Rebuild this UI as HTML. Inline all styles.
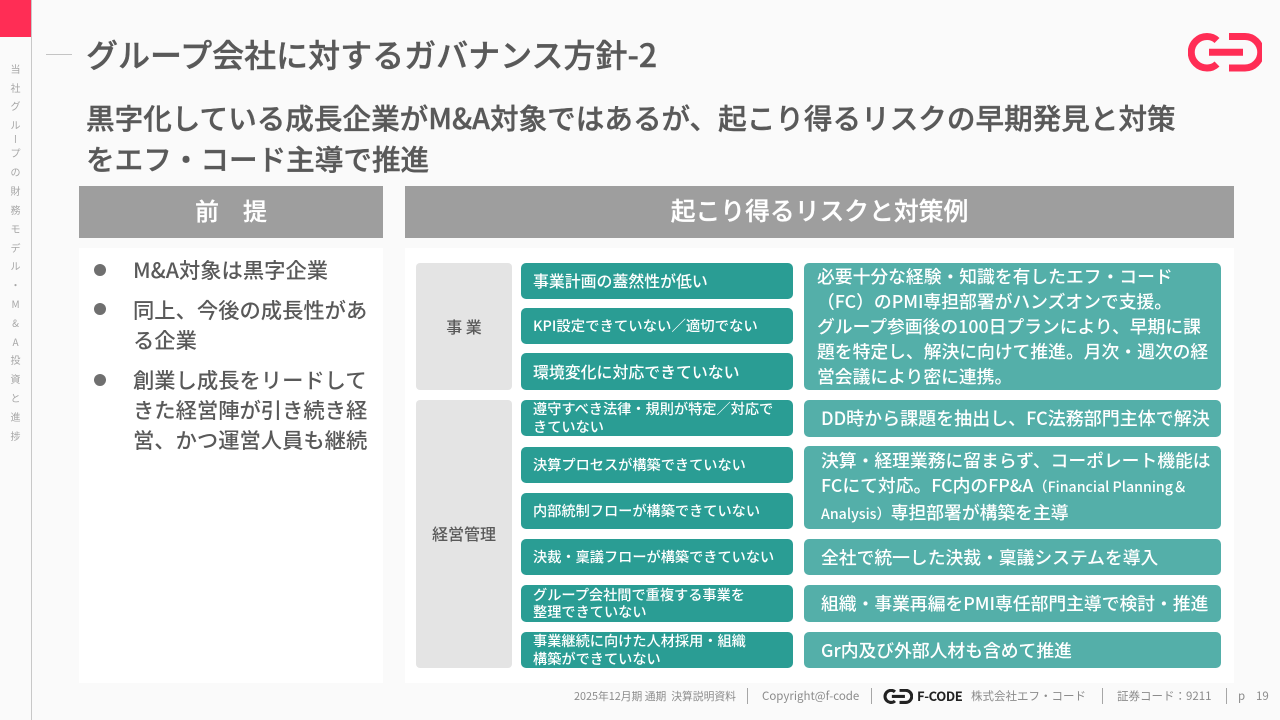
<!DOCTYPE html>
<html lang="ja"><head><meta charset="utf-8"><style>
html,body{margin:0;padding:0}
body{width:1280px;height:720px;position:relative;overflow:hidden;background:#fafafa;font-family:"Liberation Sans","Noto Sans CJK JP",sans-serif;color:#595959}
div{position:absolute;box-sizing:border-box}
.t{white-space:nowrap;line-height:1;font-family:"Noto Sans CJK JP",sans-serif;-webkit-text-stroke:.4px #595959}
.a,.b{border-radius:5px;color:#fff;white-space:nowrap;font-weight:500}
.a{left:521px;width:272px;background:#2a9d94;font-size:14.2px;line-height:17.5px;padding:1px 0 0 12px;display:flex;align-items:center;font-family:"Noto Sans CJK JP",sans-serif}
.b{left:804px;width:417px;background:#54afa9;font-size:17.8px;line-height:25px;padding-left:17px;display:flex;align-items:center;font-family:"Noto Sans CJK JP",sans-serif}
.b span.w{display:block}
.g{left:416px;width:96px;background:#e4e4e4;border-radius:4px;display:flex;align-items:center;justify-content:center;font-size:16px;font-weight:500;color:#595959;padding-bottom:2px;font-family:"Noto Sans CJK JP",sans-serif}
.dot{left:94px;width:12px;height:12px;border-radius:50%;background:#6f6f6f}
.li{left:133px;font-size:21.3px;font-weight:500;line-height:30px;white-space:nowrap;font-family:"Noto Sans CJK JP",sans-serif;color:#595959}
.s{left:0;width:31px;text-align:center;font-size:10px;line-height:1;color:#a6a6a6;font-family:"Noto Sans CJK JP",sans-serif}
.f{top:690px;font-size:11.5px;line-height:13px;color:#8c8c8c;white-space:nowrap;font-family:"Noto Sans CJK JP",sans-serif}
.v{top:688px;width:1px;height:16px;background:#a6a6a6}
.h{top:186px;height:52px;background:#9e9e9e;color:#fff;font-weight:500;line-height:48px;text-align:center;font-family:"Noto Sans CJK JP",sans-serif;-webkit-text-stroke:.3px #fff}
</style></head><body>
<div style="left:0;top:0;width:31px;height:37px;background:#ff2d55"></div>
<div style="left:31px;top:0;width:1px;height:720px;background:#c8c8c8"></div>
<div class="s" style="top:64px">当</div><div class="s" style="top:83px">社</div><div class="s" style="top:101px">グ</div><div class="s" style="top:120px">ル</div><div class="s" style="top:134px;writing-mode:vertical-rl;left:10px;width:10px;height:10px">ー</div><div class="s" style="top:148px">プ</div><div class="s" style="top:167px">の</div><div class="s" style="top:186px">財</div><div class="s" style="top:205px">務</div><div class="s" style="top:224px">モ</div><div class="s" style="top:243px">デ</div><div class="s" style="top:261px">ル</div><div class="s" style="top:280px">・</div><div class="s" style="top:299px">M</div><div class="s" style="top:318px">&amp;</div><div class="s" style="top:337px">A</div><div class="s" style="top:355px">投</div><div class="s" style="top:374px">資</div><div class="s" style="top:393px">と</div><div class="s" style="top:412px">進</div><div class="s" style="top:431px">捗</div>

<div style="left:46px;top:54px;width:26px;height:1px;background:#c4c4c4"></div>
<div class="t" style="left:86px;top:37px;font-size:32px;font-weight:500;line-height:34px">グループ会社に対するガバナンス方針-2</div>
<svg style="position:absolute;left:1188px;top:33px" width="74" height="39" viewBox="0 0 74 39"><g fill="none" stroke="#ff2d55" stroke-width="7"><path d="M29 7.500C26 4.500 23 3.500 19 3.500A15.500 15.500 0 0 0 19 35C23 35 26 34 29 31"/><path d="M41 3.500H57A15.700 15.700 0 0 1 57 35H41"/><path d="M21 19.300H55"/></g></svg>
<div class="t" style="left:86px;top:100px;font-size:28.6px;font-weight:500;line-height:36px">黒字化している成長企業がM&amp;A対象ではあるが、起こり得るリスクの早期発見と対策</div>
<div class="t" style="left:86px;top:141px;font-size:28.6px;font-weight:500;line-height:36px">をエフ・コード主導で推進</div>

<div class="h" style="left:79px;width:304px;font-size:24px">前　提</div>
<div class="h" style="left:405px;width:829px;font-size:24.8px">起こり得るリスクと対策例</div>
<div style="left:79px;top:248px;width:304px;height:435px;background:#fff"></div>
<div style="left:405px;top:248px;width:829px;height:435px;background:#fff"></div>

<div class="dot" style="top:264px"></div><div class="dot" style="top:303px"></div><div class="dot" style="top:374px"></div>
<div class="li" style="top:255px">M&amp;A対象は黒字企業</div>
<div class="li" style="top:295px">同上、今後の成長性があ<br>る企業</div>
<div class="li" style="top:365px">創業し成長をリードして<br>きた経営陣が引き続き経<br>営、かつ運営人員も継続</div>

<div class="g" style="top:263px;height:127px">事 業</div>
<div class="g" style="top:400px;height:268px">経営管理</div>

<div class="a" style="top:263px;height:36px;font-size:15.9px;padding-top:0">事業計画の蓋然性が低い</div>
<div class="a" style="top:308px;height:36px;font-size:14.4px;padding-top:0">KPI設定できていない／適切でない</div>
<div class="a" style="top:353px;height:37px;font-size:15.9px;padding-top:0">環境変化に対応できていない</div>
<div class="a" style="top:400px;height:36px">遵守すべき法律・規則が特定／対応で<br>きていない</div>
<div class="a" style="top:447px;height:36px">決算プロセスが構築できていない</div>
<div class="a" style="top:493px;height:36px">内部統制フローが構築できていない</div>
<div class="a" style="top:539px;height:36px">決裁・稟議フローが構築できていない</div>
<div class="a" style="top:585px;height:37px">グループ会社間で重複する事業を<br>整理できていない</div>
<div class="a" style="top:632px;height:36px">事業継続に向けた人材採用・組織<br>構築ができていない</div>

<div class="b" style="top:263px;height:127px;padding-left:13px">必要十分な経験・知識を有したエフ・コード<br>（FC）のPMI専担部署がハンズオンで支援。<br>グループ参画後の100日プランにより、早期に課<br>題を特定し、解決に向けて推進。月次・週次の経<br>営会議により密に連携。</div>
<div class="b" style="top:400px;height:37px;font-size:18px">DD時から課題を抽出し、FC法務部門主体で解決</div>
<div class="b" style="top:446px;height:83px"><span class="w">決算・経理業務に留まらず、コーポレート機能は<br>FCにて対応。FC内のFP&amp;A<span style="font-size:14.2px">（Financial Planning＆</span><br><span style="font-size:14.2px">Analysis）</span>専担部署が構築を主導</span></div>
<div class="b" style="top:539px;height:36px">全社で統一した決裁・稟議システムを導入</div>
<div class="b" style="top:585px;height:37px">組織・事業再編をPMI専任部門主導で検討・推進</div>
<div class="b" style="top:632px;height:36px">Gr内及び外部人材も含めて推進</div>

<div class="f" style="left:574px;font-size:10.8px">2025年12月期 通期&nbsp; 決算説明資料</div>
<div class="v" style="left:747px"></div>
<div class="f" style="left:762px">Copyright@f-code</div>
<div class="v" style="left:871px"></div>
<svg style="position:absolute;left:883px;top:689px" width="30" height="15" viewBox="0 0 74 39"><g fill="none" stroke="#222" stroke-width="8"><path d="M29 7.500C26 4.500 23 3.500 19 3.500A15.500 15.500 0 0 0 19 35C23 35 26 34 29 31"/><path d="M41 3.500H57A15.700 15.700 0 0 1 57 35H41"/><path d="M21 19.300H55"/></g></svg>
<div class="f" style="left:917px;top:689px;font-size:13px;font-weight:700;color:#222;letter-spacing:-.4px">F-CODE</div>
<div class="f" style="left:971px">株式会社エフ・コード</div>
<div class="v" style="left:1102px"></div>
<div class="f" style="left:1117px">証券コード：9211</div>
<div class="v" style="left:1226px"></div>
<div class="f" style="left:1238px">p</div>
<div class="f" style="left:1256px">19</div>
</body></html>
